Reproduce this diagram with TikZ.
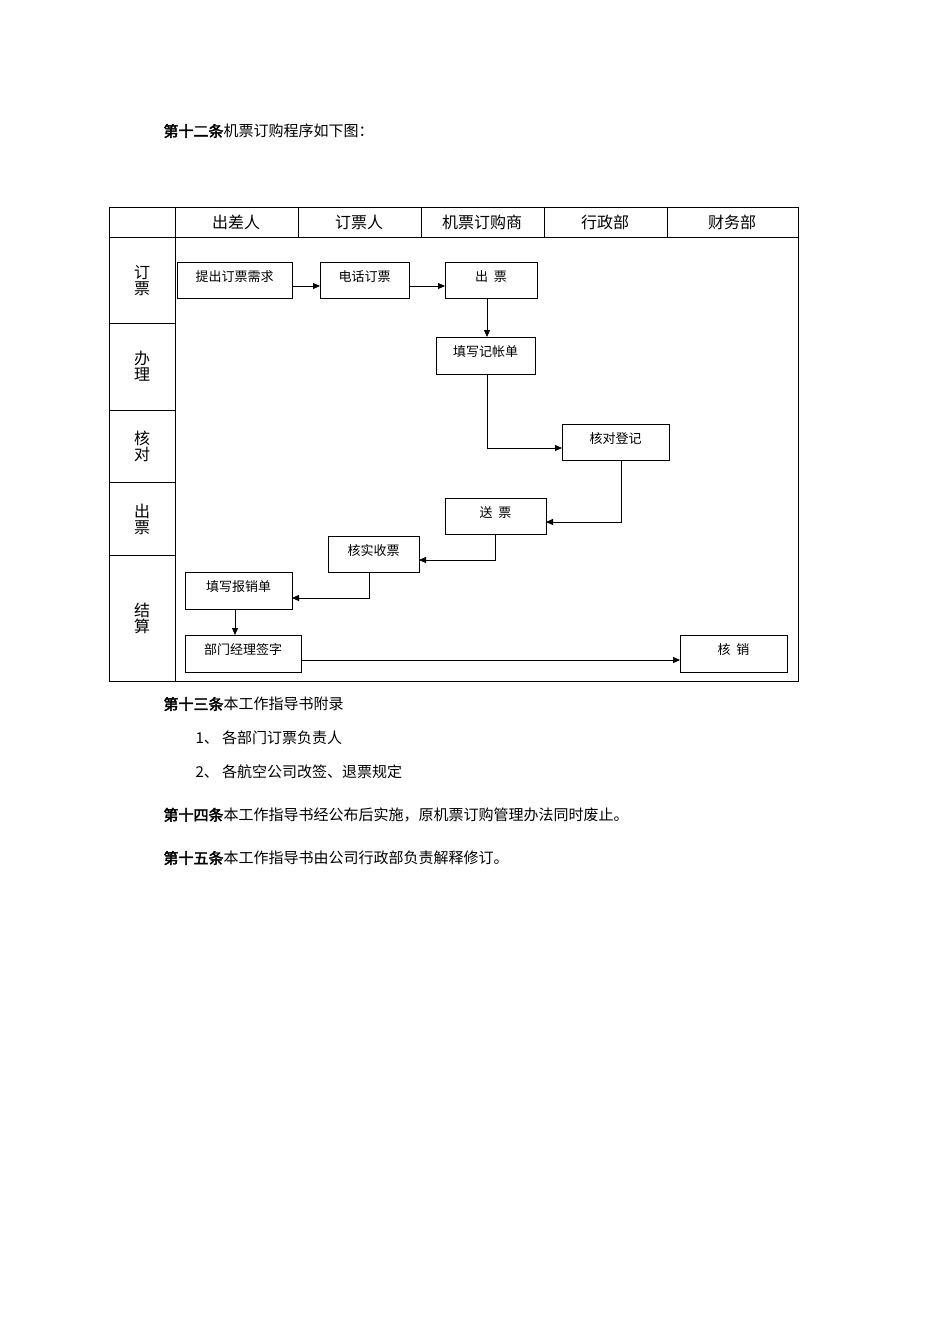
\documentclass[tikz,border=0pt]{standalone}
\usepackage{fontspec}
\setmainfont[AutoFakeBold=2.5]{Noto Sans CJK SC}
\usetikzlibrary{arrows.meta}
\begin{document}
\begin{tikzpicture}[x=1pt,y=1pt,
  bx/.style={draw,thick,minimum height=0pt,inner sep=0pt},
  lbl/.style={font=\fontsize{13}{13}\selectfont,anchor=north},
  arr/.style={-{Triangle[length=7pt,width=6pt]},thick},
  body/.style={anchor=west,font=\fontsize{15}{15}\selectfont},
  hd/.style={font=\fontsize{16}{16}\selectfont}]
\useasboundingbox (0,0) rectangle (950,-1344);
\node[body] (t1) at (160,-131) {\textbf{第十二条}机票订购程序如下图：};
% table
\draw (109,-207) rectangle (798,-681);
\draw (109,-237) -- (798,-237);
\foreach \x in {175,298,421,544,667} \draw (\x,-207) -- (\x,-237);
\draw (175,-237) -- (175,-681);
\foreach \y in {323,410,482,555} \draw (109,-\y) -- (175,-\y);
\node[hd] (h1) at (236,-222) {出差人};
\node[hd] (h2) at (359,-222) {订票人};
\node[hd] (h3) at (482,-222) {机票订购商};
\node[hd] (h4) at (605,-222) {行政部};
\node[hd] (h5) at (732,-222) {财务部};
\node[hd,align=center] (r1) at (142,-281) {订\\票};
\node[hd,align=center] (r2) at (142,-366) {办\\理};
\node[hd,align=center] (r3) at (142,-446) {核\\对};
\node[hd,align=center] (r4) at (142,-519) {出\\票};
\node[hd,align=center] (r5) at (142,-618) {结\\算};
% boxes
\newcommand{\bxx}[6]{\draw[thick] (#2,-#3) rectangle (#4,-#5);
  \coordinate (#1nw) at (#2,-#3); \coordinate (#1se) at (#4,-#5);
  \node[lbl] (#1) at ({(#2+#4)/2},-#3-5) {#6};}
\bxx{a}{177}{262}{292}{298}{提出订票需求}
\bxx{b}{320}{262}{409}{298}{电话订票}
\bxx{c}{445}{262}{537}{298}{出\ \ 票}
\bxx{d}{436}{337}{535}{374}{填写记帐单}
\bxx{e}{562}{424}{669}{460}{核对登记}
\bxx{f}{445}{498}{546}{534}{送\ \ 票}
\bxx{g}{328}{536}{419}{572}{核实收票}
\bxx{h}{185}{572}{292}{609}{填写报销单}
\bxx{i}{185}{635}{301}{672}{部门经理签字}
\bxx{j}{680}{635}{787}{672}{核\ \ 销}
% arrows
\draw[arr] (292,-286) -- (320,-286);
\draw[arr] (409,-286) -- (445,-286);
\draw[arr] (487,-298) -- (487,-337);
\draw[arr] (487,-374) -- (487,-448) -- (562,-448);
\draw[arr] (621,-460) -- (621,-522) -- (546,-522);
\draw[arr] (495,-534) -- (495,-560) -- (419,-560);
\draw[arr] (369,-572) -- (369,-598) -- (292,-598);
\draw[arr] (235,-609) -- (235,-635);
\draw[arr] (301,-660) -- (680,-660);
% text
\node[body] (t2) at (160,-704) {\textbf{第十三条}本工作指导书附录};
\node[body] (t3) at (192,-738) {1、 各部门订票负责人};
\node[body] (t4) at (192,-772) {2、 各航空公司改签、退票规定};
\node[body] (t5) at (160,-815) {\textbf{第十四条}本工作指导书经公布后实施，原机票订购管理办法同时废止。};
\node[body] (t6) at (160,-858) {\textbf{第十五条}本工作指导书由公司行政部负责解释修订。};
\end{tikzpicture}
\end{document}
